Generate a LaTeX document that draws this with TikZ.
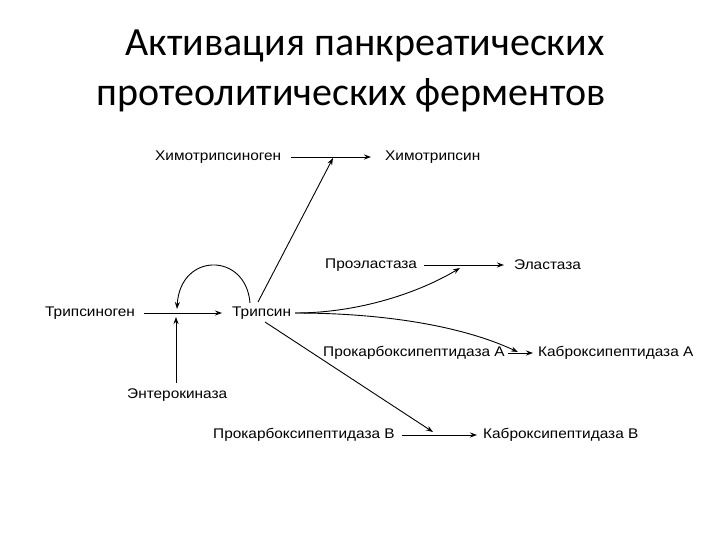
\documentclass[tikz,border=0pt]{standalone}
\usepackage{fontspec}
\setmainfont{Liberation Sans}[FakeStretch=1.1]
\newfontfamily\titlefont{Carlito}
\usetikzlibrary{arrows.meta}
\begin{document}
\begin{tikzpicture}[x=1pt,y=1pt,
  lbl/.style={font=\fontsize{14}{16}\selectfont, inner sep=0pt, anchor=west},
  ttl/.style={font=\titlefont\fontsize{40}{44}\selectfont, inner sep=0pt},
  arr/.style={-{Stealth[length=7pt,width=5pt]}, line width=0.9pt}]
\useasboundingbox (0,0) rectangle (720,-540);
\node[ttl] (t1) at (365,-46) {Активация панкреатических};
\node[ttl] (t2) at (351,-95) {протеолитических ферментов};
\node[lbl] (hg) at (155,-157) {Химотрипсиноген};
\node[lbl] (hs) at (385,-157) {Химотрипсин};
\node[lbl] (pe) at (325,-265) {Проэластаза};
\node[lbl] (el) at (514,-265) {Эластаза};
\node[lbl] (tg) at (45,-313) {Трипсиноген};
\node[lbl] (tr) at (232,-313) {Трипсин};
\node[lbl] (ek) at (127,-395) {Энтерокиназа};
\node[lbl] (pa) at (323,-353) {Прокарбоксипептидаза А};
\node[lbl] (ka) at (538,-353) {Каброксипептидаза А};
\node[lbl] (pb) at (213,-435) {Прокарбоксипептидаза В};
\node[lbl] (kb) at (483,-435) {Каброксипептидаза В};
% coordinates
\coordinate (c1) at (333,-158);
\coordinate (c2) at (460,-268);
\coordinate (c3) at (518,-352);
\coordinate (c4) at (433,-432);
\coordinate (lp1) at (250,-303);
\coordinate (lp2) at (177,-309);
\coordinate (ek1) at (176,-383);
\coordinate (ek2) at (176,-317);
\coordinate (tre) at (295,-313);
\coordinate (trs) at (265,-322);
\coordinate (trn) at (258,-302);
% main arrows
\draw[arr] ([xshift=10pt]hg.east) -- ([xshift=-14pt]hs.west);
\draw[arr] ([xshift=7pt]pe.east) -- ([xshift=-10pt]el.west);
\draw[arr] ([xshift=9pt]tg.east) -- ([xshift=-10pt]tr.west);
\draw[arr] ([xshift=3pt]pa.east) -- ([xshift=-5pt]ka.west);
\draw[arr] ([xshift=7pt]pb.east) -- ([xshift=-6pt]kb.west);
% from trypsin
\draw[arr] (trn) -- (c1);
\draw[arr] (tre) .. controls (360,-313) and (420,-292) .. (c2);
\draw[arr] (tre) .. controls (380,-313) and (460,-325) .. (c3);
\draw[arr] (trs) -- (c4);
% loop
\draw[arr] (lp1) .. controls (246,-252) and (180,-252) .. (lp2);
% enterokinase
\draw[arr] (ek1) -- (ek2);
\end{tikzpicture}
\end{document}
